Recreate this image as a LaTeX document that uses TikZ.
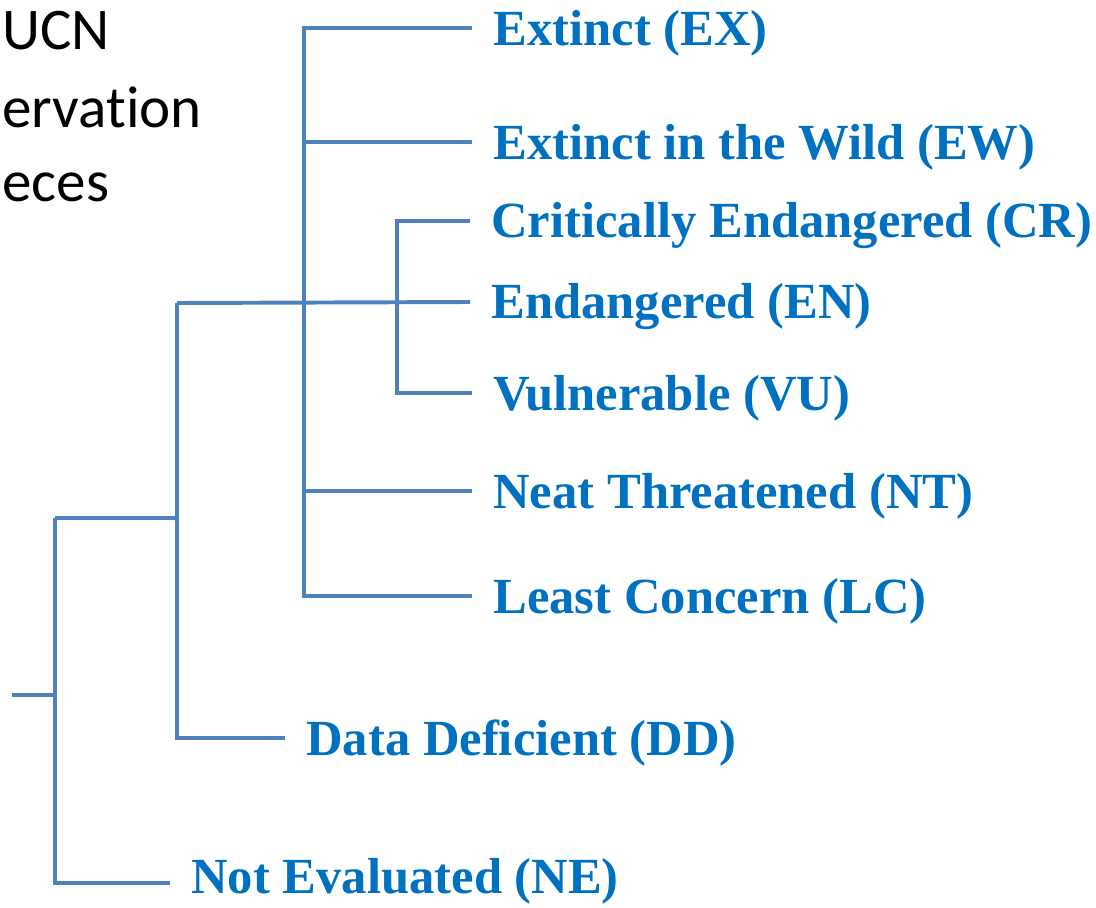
\documentclass[tikz,border=0pt]{standalone}
\usepackage{fontspec}
\setmainfont{Liberation Serif}
\newfontfamily\calibfont[Ligatures=NoCommon]{Carlito}
\usetikzlibrary{positioning}

\begin{document}
\begin{tikzpicture}[x=0.025cm,y=-0.025cm,
  branch/.style={line width=2.8pt,draw=lineblue},
  cat/.style={inner sep=0pt,text=textblue,font=\fontsize{36}{40}\selectfont\bfseries}]
  \definecolor{lineblue}{HTML}{4F81BD}
  \definecolor{textblue}{HTML}{0070C0}
  \useasboundingbox (0,0) rectangle (1096,907);

  % title, cut off at the left edge
  \foreach \t/\y [count=\i] in {UCN/50,ervation/127,eces/201}
    \node[anchor=base west,inner sep=0pt,font=\calibfont\fontsize{42}{50}\selectfont] (title\i) at (2,\y) {\t};

  % junctions and branch ends
  \coordinate (root) at (12,695);
  \coordinate (a1) at (55,518);
  \coordinate (a2) at (55,883);
  \coordinate (b1) at (177,303);
  \coordinate (b2) at (177,738);
  \coordinate (c1) at (304,28);
  \coordinate (c2) at (304,596);
  \coordinate (d1) at (397,221);
  \coordinate (d2) at (397,393);
  \coordinate (ex) at (472,28);
  \coordinate (ew) at (472,142);
  \coordinate (cr) at (470,221);
  \coordinate (en) at (470,302);
  \coordinate (vu) at (472,393);
  \coordinate (nt) at (472,491);
  \coordinate (lc) at (472,596);
  \coordinate (dd) at (285,738);
  \coordinate (ne) at (170,883);

  % the categories
  \foreach \n/\t/\s in {ex/Extinct (EX)/-3.5,ew/Extinct in the Wild (EW)/-3.5,
      cr/Critically Endangered (CR)/-3.5,en/Endangered (EN)/-3.5,vu/Vulnerable (VU)/-3.5,
      nt/Neat Threatened (NT)/-3.5,lc/Least Concern (LC)/-3.5,
      dd/Data Deficient (DD)/-3.5,ne/Not Evaluated (NE)/1.5}
    \node[cat,right=15pt of \n,yshift=\s pt] (\n l) {\t};

  % the tree
  \draw[branch] (root) -- (a1 |- root);
  \draw[branch] (a1) -- (a2) -- (ne);
  \draw[branch] (a1) -- (b1 |- a1);
  \draw[branch] (b1) -- (b2) -- (dd);
  \draw[branch] (b1) -- (en);
  \draw[branch] (ex) -- (c1) -- (c2) -- (lc);
  \draw[branch] (c1 |- ew) -- (ew);
  \draw[branch] (c1 |- nt) -- (nt);
  \draw[branch] (cr) -- (d1) -- (d2) -- (vu);
\end{tikzpicture}
\end{document}
